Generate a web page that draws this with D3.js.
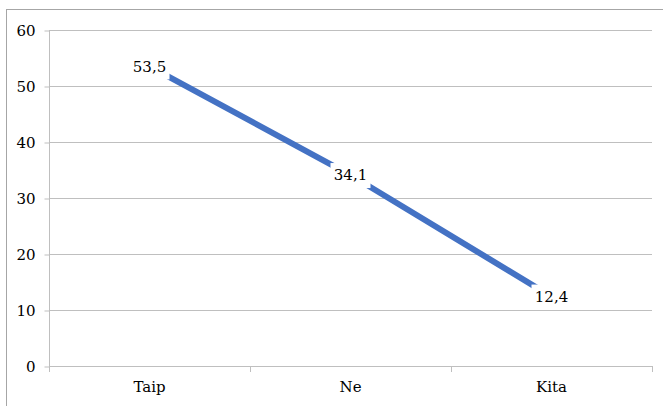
<!DOCTYPE html>
<html><head><meta charset="utf-8">
<script src="https://cdn.jsdelivr.net/npm/d3@7"></script>
<style>html,body{margin:0;padding:0;background:#fff;}svg{display:block;}
svg text{font-family:"DejaVu Serif","Liberation Serif",serif !important;}</style>
</head><body>
<svg id="chart" width="663" height="406"></svg>
<script>
const categories = ["Taip", "Ne", "Kita"];
const values = [53.5, 34.1, 12.4];
const labels = ["53,5", "34,1", "12,4"];
const yTicks = [0, 10, 20, 30, 40, 50, 60];

const svg = d3.select("#chart");
const W = 663, H = 406;
const m = {left: 49, right: 11, top: 30, bottom: 40};

svg.append("rect").attr("x", 6.5).attr("y", 9.5).attr("width", 700).attr("height", 500)
  .attr("fill", "none").attr("stroke", "#a6a6a6").attr("stroke-width", 1);

const x = d3.scaleBand().domain(categories).range([m.left, W - m.right]).padding(0);
const y = d3.scaleLinear().domain([0, 60]).range([366, 30]);

svg.append("g").selectAll("line").data(yTicks.filter(d => d > 0)).join("line")
  .attr("x1", m.left).attr("x2", W - m.right)
  .attr("y1", d => Math.round(y(d)) + 0.5).attr("y2", d => Math.round(y(d)) + 0.5)
  .attr("stroke", "#bfbfbf").attr("stroke-width", 1);

const yAxis = svg.append("g").attr("transform", `translate(${m.left + 0.5},0.5)`)
  .call(d3.axisLeft(y).tickValues(yTicks).tickSize(5).tickPadding(9).tickFormat(d3.format("d")));
yAxis.attr("font-family", null);
yAxis.select(".domain").attr("stroke", "#bfbfbf").attr("d", `M0,${y(0)}V${y(60)}`);
yAxis.selectAll(".tick line").attr("stroke", "#bfbfbf");
yAxis.selectAll(".tick text").attr("font-size", 15).attr("fill", "#000");

const xAxis = svg.append("g").attr("transform", `translate(0,${Math.round(y(0)) + 0.5})`)
  .call(d3.axisBottom(x).tickSize(0).tickPadding(15));
xAxis.attr("font-family", null);
xAxis.select(".domain").attr("stroke", "#bfbfbf").attr("d", `M${m.left},0H${W - m.right}`);
xAxis.selectAll(".tick text").attr("font-size", 15).attr("fill", "#000");
svg.append("g").selectAll("line").data(d3.range(categories.length + 1)).join("line")
  .attr("x1", i => Math.round(m.left + i * x.bandwidth()) + 0.5)
  .attr("x2", i => Math.round(m.left + i * x.bandwidth()) + 0.5)
  .attr("y1", Math.round(y(0))).attr("y2", Math.round(y(0)) + 6)
  .attr("stroke", "#bfbfbf");

const line = d3.line().x((d, i) => x(categories[i]) + x.bandwidth() / 2).y(d => y(d));
svg.append("path").datum(values).attr("d", line)
  .attr("fill", "none").attr("stroke", "#4472c4").attr("stroke-width", 6);

const lg = svg.append("g").selectAll("g").data(values).join("g")
  .attr("transform", (d, i) => `translate(${x(categories[i]) + x.bandwidth() / 2},${y(d)})`);
lg.append("rect").attr("x", -20).attr("y", -12).attr("width", 40).attr("height", 25).attr("fill", "#fff");
lg.append("text").text((d, i) => labels[i]).attr("text-anchor", "middle").attr("dy", "0.35em")
  .attr("font-size", 15).attr("fill", "#000");
</script>
</body></html>
